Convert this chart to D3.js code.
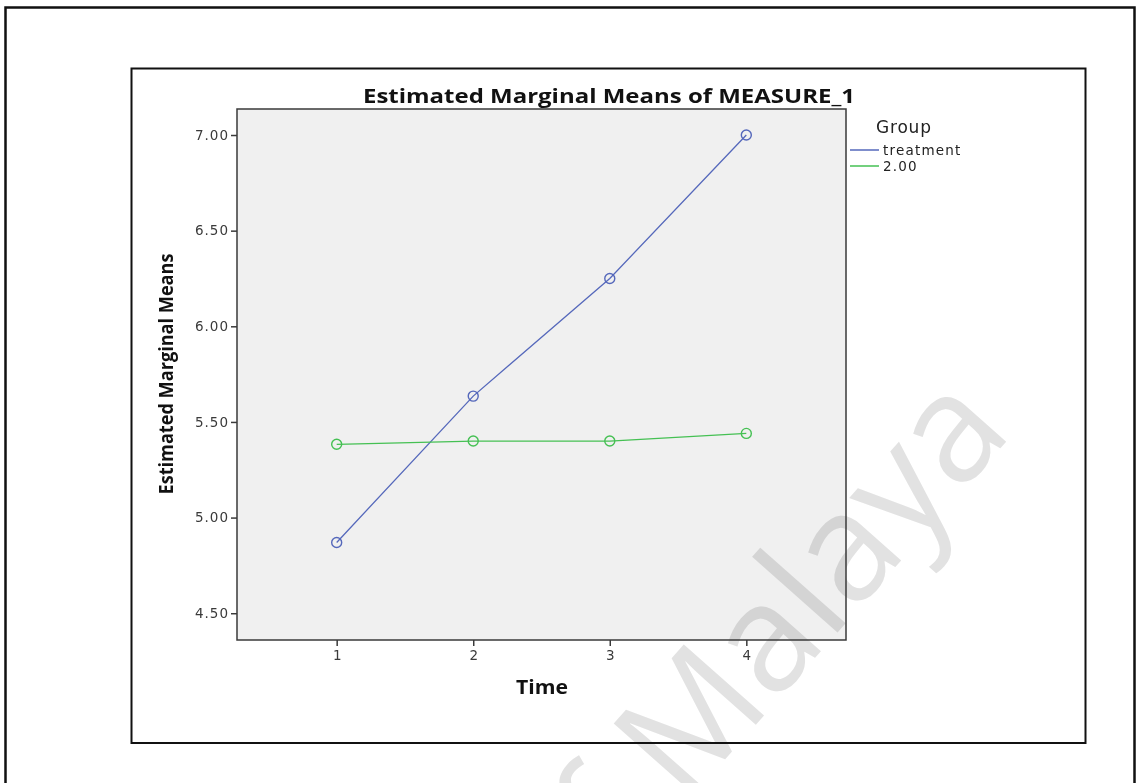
<!DOCTYPE html>
<html>
<head>
<meta charset="utf-8">
<script src="https://cdn.jsdelivr.net/npm/d3@7"></script>
<style>
  html, body { margin: 0; padding: 0; background: #fff; }
  svg { display: block; }
</style>
</head>
<body>
<svg id="chart" width="1136" height="783"></svg>
<script>
// Profile plot: estimated marginal means across four time points
const timePoints = [1, 2, 3, 4];
const groupNames = ["treatment", "2.00"];
const treatmentMeans = [4.87, 5.635, 6.25, 7.00];
const controlMeans = [5.383, 5.40, 5.40, 5.44];
const yTicks = [4.5, 5.0, 5.5, 6.0, 6.5, 7.0];
const seriesColors = ["#5568bb", "#45c053"];

const svg = d3.select("#chart");
const plot = { left: 237, top: 109, right: 846, bottom: 640 };

// outer page frame
svg.append("rect")
  .attr("x", 5.5).attr("y", 7.5).attr("width", 1129).attr("height", 800)
  .attr("fill", "none").attr("stroke", "#111").attr("stroke-width", 2.5);

// chart frame
svg.append("rect")
  .attr("x", 131.5).attr("y", 68.5).attr("width", 954).attr("height", 674.5)
  .attr("fill", "#fff").attr("stroke", "#111").attr("stroke-width", 2);

// watermark "of Malaya", placed so that the "l" sits at (829, 642)
const wm = svg.append("text")
  .attr("font-family", "Open Sans").attr("font-size", 150)
  .attr("fill", "#e2e2e2").style("mix-blend-mode", "darken")
  .text("of Malaya");
const lead = wm.node().getSubStringLength(0, 5);
wm.attr("x", -lead).attr("transform", "translate(829,642) rotate(-48.5)");

const x = d3.scaleLinear().domain([0.27, 4.73]).range([plot.left, plot.right]);
const y = d3.scaleLinear().domain([4.36, 7.136]).range([plot.bottom, plot.top]);

// plot background: a light translucent grey, so the watermark shows through
svg.append("rect")
  .attr("x", plot.left).attr("y", plot.top)
  .attr("width", plot.right - plot.left).attr("height", plot.bottom - plot.top)
  .attr("fill", "#000").attr("fill-opacity", 0.059);
svg.append("rect")
  .attr("x", plot.left).attr("y", plot.top)
  .attr("width", plot.right - plot.left).attr("height", plot.bottom - plot.top)
  .attr("fill", "none").attr("stroke", "#3a3a3a").attr("stroke-width", 1.5);

// axes
const tickFont = g => g.selectAll("text")
  .attr("font-family", "DejaVu Sans").attr("font-size", 13.5)
  .attr("letter-spacing", 1).attr("fill", "#3a3a3a");

const yAxis = d3.axisLeft(y).tickValues(yTicks).tickFormat(d3.format(".2f"))
  .tickSize(6).tickPadding(2);
const gy = svg.append("g").attr("transform", `translate(${plot.left},0)`).call(yAxis);
gy.select(".domain").remove();
gy.selectAll("line").attr("stroke", "#3a3a3a").attr("stroke-width", 1.5);
gy.call(tickFont);

const xAxis = d3.axisBottom(x).tickValues(timePoints).tickFormat(d3.format("d"))
  .tickSize(6).tickPadding(4);
const gx = svg.append("g").attr("transform", `translate(0,${plot.bottom})`).call(xAxis);
gx.select(".domain").remove();
gx.selectAll("line").attr("stroke", "#3a3a3a").attr("stroke-width", 1.5);
gx.call(tickFont);
gx.selectAll("text").attr("letter-spacing", 0);

// series lines and markers
const series = [treatmentMeans, controlMeans];
const line = d3.line().x((d, i) => x(timePoints[i])).y(d => y(d));
series.forEach((vals, s) => {
  svg.append("path").datum(vals)
    .attr("d", line).attr("fill", "none")
    .attr("stroke", seriesColors[s]).attr("stroke-width", 1.3);
  svg.selectAll(null).data(vals).enter().append("circle")
    .attr("cx", (d, i) => x(timePoints[i])).attr("cy", d => y(d))
    .attr("r", 5).attr("fill", "none")
    .attr("stroke", seriesColors[s]).attr("stroke-width", 1.4);
});

// titles
svg.append("text").attr("x", 609).attr("y", 103)
  .attr("text-anchor", "middle").attr("font-family", "Open Sans")
  .attr("font-weight", "bold").attr("font-size", 20).attr("fill", "#111")
  .attr("textLength", 492).attr("lengthAdjust", "spacingAndGlyphs")
  .text("Estimated Marginal Means of MEASURE_1");

svg.append("text").attr("x", 542).attr("y", 694)
  .attr("text-anchor", "middle").attr("font-family", "Open Sans")
  .attr("font-weight", "bold").attr("font-size", 19).attr("fill", "#111")
  .attr("textLength", 52).attr("lengthAdjust", "spacingAndGlyphs")
  .text("Time");

svg.append("text")
  .attr("transform", "translate(173,374) rotate(-90)")
  .attr("text-anchor", "middle").attr("font-family", "Open Sans")
  .attr("font-weight", "bold").attr("font-size", 20).attr("fill", "#111")
  .attr("textLength", 241).attr("lengthAdjust", "spacingAndGlyphs")
  .text("Estimated Marginal Means");

// legend
svg.append("text").attr("x", 876).attr("y", 133)
  .attr("font-family", "DejaVu Sans").attr("font-size", 17).attr("fill", "#222")
  .attr("letter-spacing", 0.8)
  .text("Group");
groupNames.forEach((name, i) => {
  const ly = 150 + i * 16;
  svg.append("line").attr("x1", 850).attr("x2", 879).attr("y1", ly).attr("y2", ly)
    .attr("stroke", seriesColors[i]).attr("stroke-width", 1.5);
  svg.append("text").attr("x", 883).attr("y", ly + 5)
    .attr("font-family", "DejaVu Sans").attr("font-size", 13.5).attr("fill", "#222")
    .attr("letter-spacing", 1.2)
    .text(name);
});
</script>
</body>
</html>
